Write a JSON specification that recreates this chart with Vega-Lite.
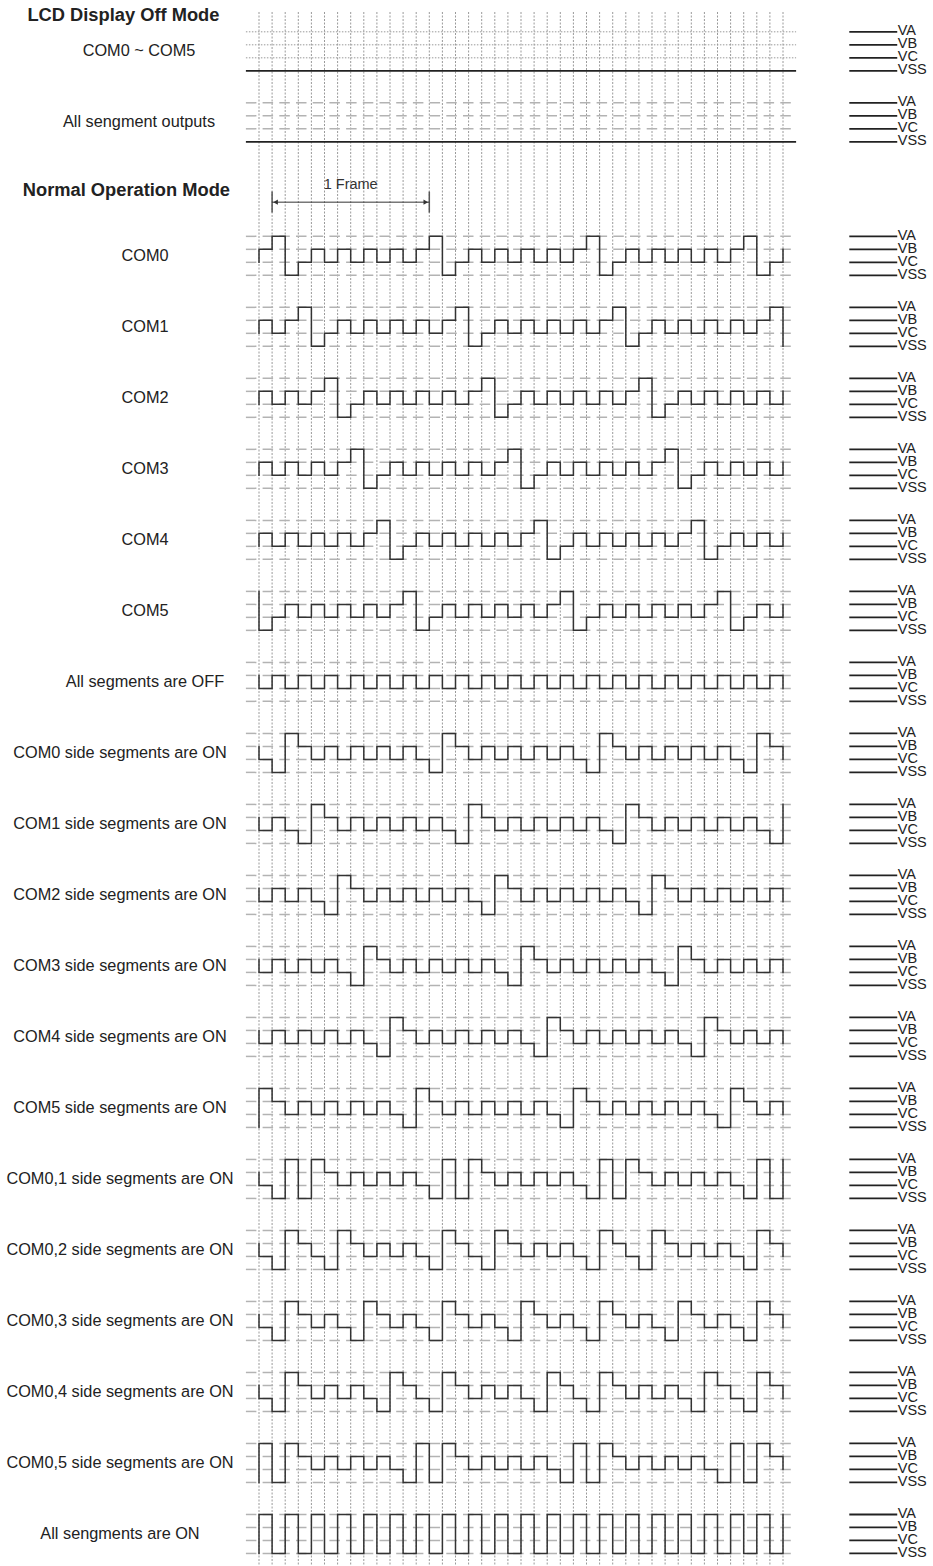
{
  "$schema": "https://vega.github.io/schema/vega-lite/v6.json",
  "width": 933,
  "height": 1566,
  "autosize": {"type": "fit", "contains": "padding"},
  "padding": 0,
  "background": "white",
  "config": {"view": {"stroke": null}, "font": "Liberation Sans"},
  "datasets": {
    "grid": [{"t": [0,1,2,3,4,5,6,7,8,9,10,11,12,13,14,15,16,17,18,19,20,21,22,23,24,25,26,27,28,29,30,31,32,33,34,35,36,37,38,39,40]}],
    "lv": [
      {"r": 0, "v": [3,2,1,0], "n": ["VA","VB","VC","VSS"]},
      {"r": 1, "v": [3,2,1,0], "n": ["VA","VB","VC","VSS"]},
      {"r": 2, "v": [3,2,1,0], "n": ["VA","VB","VC","VSS"]},
      {"r": 3, "v": [3,2,1,0], "n": ["VA","VB","VC","VSS"]},
      {"r": 4, "v": [3,2,1,0], "n": ["VA","VB","VC","VSS"]},
      {"r": 5, "v": [3,2,1,0], "n": ["VA","VB","VC","VSS"]},
      {"r": 6, "v": [3,2,1,0], "n": ["VA","VB","VC","VSS"]},
      {"r": 7, "v": [3,2,1,0], "n": ["VA","VB","VC","VSS"]},
      {"r": 8, "v": [3,2,1,0], "n": ["VA","VB","VC","VSS"]},
      {"r": 9, "v": [3,2,1,0], "n": ["VA","VB","VC","VSS"]},
      {"r": 10, "v": [3,2,1,0], "n": ["VA","VB","VC","VSS"]},
      {"r": 11, "v": [3,2,1,0], "n": ["VA","VB","VC","VSS"]},
      {"r": 12, "v": [3,2,1,0], "n": ["VA","VB","VC","VSS"]},
      {"r": 13, "v": [3,2,1,0], "n": ["VA","VB","VC","VSS"]},
      {"r": 14, "v": [3,2,1,0], "n": ["VA","VB","VC","VSS"]},
      {"r": 15, "v": [3,2,1,0], "n": ["VA","VB","VC","VSS"]},
      {"r": 16, "v": [3,2,1,0], "n": ["VA","VB","VC","VSS"]},
      {"r": 17, "v": [3,2,1,0], "n": ["VA","VB","VC","VSS"]},
      {"r": 18, "v": [3,2,1,0], "n": ["VA","VB","VC","VSS"]}
    ],
    "off": [
      {"r": -3, "v": [3,2,1,0], "n": ["VA","VB","VC","VSS"], "k": ["dot","dot","dot","solid"]},
      {"r": -2, "v": [3,2,1,0], "n": ["VA","VB","VC","VSS"], "k": ["dash","dash","dash","solid"]}
    ],
    "wave": [
      {"r": 0, "t": [0,0,1,2,3,4,5,6,7,8,9,10,11,12,13,14,15,16,17,18,19,20,21,22,23,24,25,26,27,28,29,30,31,32,33,34,35,36,37,38,39,40], "v": [1,2,3,0,1,2,1,2,1,2,1,2,1,2,3,0,1,2,1,2,1,2,1,2,1,2,3,0,1,2,1,2,1,2,1,2,1,2,3,0,1,2]},
      {"r": 1, "t": [0,0,1,2,3,4,5,6,7,8,9,10,11,12,13,14,15,16,17,18,19,20,21,22,23,24,25,26,27,28,29,30,31,32,33,34,35,36,37,38,39,40], "v": [1,2,1,2,3,0,1,2,1,2,1,2,1,2,1,2,3,0,1,2,1,2,1,2,1,2,1,2,3,0,1,2,1,2,1,2,1,2,1,2,3,0]},
      {"r": 2, "t": [0,0,1,2,3,4,5,6,7,8,9,10,11,12,13,14,15,16,17,18,19,20,21,22,23,24,25,26,27,28,29,30,31,32,33,34,35,36,37,38,39,40], "v": [1,2,1,2,1,2,3,0,1,2,1,2,1,2,1,2,1,2,3,0,1,2,1,2,1,2,1,2,1,2,3,0,1,2,1,2,1,2,1,2,1,2]},
      {"r": 3, "t": [0,0,1,2,3,4,5,6,7,8,9,10,11,12,13,14,15,16,17,18,19,20,21,22,23,24,25,26,27,28,29,30,31,32,33,34,35,36,37,38,39,40], "v": [1,2,1,2,1,2,1,2,3,0,1,2,1,2,1,2,1,2,1,2,3,0,1,2,1,2,1,2,1,2,1,2,3,0,1,2,1,2,1,2,1,2]},
      {"r": 4, "t": [0,0,1,2,3,4,5,6,7,8,9,10,11,12,13,14,15,16,17,18,19,20,21,22,23,24,25,26,27,28,29,30,31,32,33,34,35,36,37,38,39,40], "v": [1,2,1,2,1,2,1,2,1,2,3,0,1,2,1,2,1,2,1,2,1,2,3,0,1,2,1,2,1,2,1,2,1,2,3,0,1,2,1,2,1,2]},
      {"r": 5, "t": [0,0,1,2,3,4,5,6,7,8,9,10,11,12,13,14,15,16,17,18,19,20,21,22,23,24,25,26,27,28,29,30,31,32,33,34,35,36,37,38,39,40], "v": [3,0,1,2,1,2,1,2,1,2,1,2,3,0,1,2,1,2,1,2,1,2,1,2,3,0,1,2,1,2,1,2,1,2,1,2,3,0,1,2,1,2]},
      {"r": 6, "t": [0,0,1,2,3,4,5,6,7,8,9,10,11,12,13,14,15,16,17,18,19,20,21,22,23,24,25,26,27,28,29,30,31,32,33,34,35,36,37,38,39,40], "v": [2,1,2,1,2,1,2,1,2,1,2,1,2,1,2,1,2,1,2,1,2,1,2,1,2,1,2,1,2,1,2,1,2,1,2,1,2,1,2,1,2,1]},
      {"r": 7, "t": [0,0,1,2,3,4,5,6,7,8,9,10,11,12,13,14,15,16,17,18,19,20,21,22,23,24,25,26,27,28,29,30,31,32,33,34,35,36,37,38,39,40], "v": [2,1,0,3,2,1,2,1,2,1,2,1,2,1,0,3,2,1,2,1,2,1,2,1,2,1,0,3,2,1,2,1,2,1,2,1,2,1,0,3,2,1]},
      {"r": 8, "t": [0,0,1,2,3,4,5,6,7,8,9,10,11,12,13,14,15,16,17,18,19,20,21,22,23,24,25,26,27,28,29,30,31,32,33,34,35,36,37,38,39,40], "v": [2,1,2,1,0,3,2,1,2,1,2,1,2,1,2,1,0,3,2,1,2,1,2,1,2,1,2,1,0,3,2,1,2,1,2,1,2,1,2,1,0,3]},
      {"r": 9, "t": [0,0,1,2,3,4,5,6,7,8,9,10,11,12,13,14,15,16,17,18,19,20,21,22,23,24,25,26,27,28,29,30,31,32,33,34,35,36,37,38,39,40], "v": [2,1,2,1,2,1,0,3,2,1,2,1,2,1,2,1,2,1,0,3,2,1,2,1,2,1,2,1,2,1,0,3,2,1,2,1,2,1,2,1,2,1]},
      {"r": 10, "t": [0,0,1,2,3,4,5,6,7,8,9,10,11,12,13,14,15,16,17,18,19,20,21,22,23,24,25,26,27,28,29,30,31,32,33,34,35,36,37,38,39,40], "v": [2,1,2,1,2,1,2,1,0,3,2,1,2,1,2,1,2,1,2,1,0,3,2,1,2,1,2,1,2,1,2,1,0,3,2,1,2,1,2,1,2,1]},
      {"r": 11, "t": [0,0,1,2,3,4,5,6,7,8,9,10,11,12,13,14,15,16,17,18,19,20,21,22,23,24,25,26,27,28,29,30,31,32,33,34,35,36,37,38,39,40], "v": [2,1,2,1,2,1,2,1,2,1,0,3,2,1,2,1,2,1,2,1,2,1,0,3,2,1,2,1,2,1,2,1,2,1,0,3,2,1,2,1,2,1]},
      {"r": 12, "t": [0,0,1,2,3,4,5,6,7,8,9,10,11,12,13,14,15,16,17,18,19,20,21,22,23,24,25,26,27,28,29,30,31,32,33,34,35,36,37,38,39,40], "v": [0,3,2,1,2,1,2,1,2,1,2,1,0,3,2,1,2,1,2,1,2,1,2,1,0,3,2,1,2,1,2,1,2,1,2,1,0,3,2,1,2,1]},
      {"r": 13, "t": [0,0,1,2,3,4,5,6,7,8,9,10,11,12,13,14,15,16,17,18,19,20,21,22,23,24,25,26,27,28,29,30,31,32,33,34,35,36,37,38,39,40], "v": [2,1,0,3,0,3,2,1,2,1,2,1,2,1,0,3,0,3,2,1,2,1,2,1,2,1,0,3,0,3,2,1,2,1,2,1,2,1,0,3,0,3]},
      {"r": 14, "t": [0,0,1,2,3,4,5,6,7,8,9,10,11,12,13,14,15,16,17,18,19,20,21,22,23,24,25,26,27,28,29,30,31,32,33,34,35,36,37,38,39,40], "v": [2,1,0,3,2,1,0,3,2,1,2,1,2,1,0,3,2,1,0,3,2,1,2,1,2,1,0,3,2,1,0,3,2,1,2,1,2,1,0,3,2,1]},
      {"r": 15, "t": [0,0,1,2,3,4,5,6,7,8,9,10,11,12,13,14,15,16,17,18,19,20,21,22,23,24,25,26,27,28,29,30,31,32,33,34,35,36,37,38,39,40], "v": [2,1,0,3,2,1,2,1,0,3,2,1,2,1,0,3,2,1,2,1,0,3,2,1,2,1,0,3,2,1,2,1,0,3,2,1,2,1,0,3,2,1]},
      {"r": 16, "t": [0,0,1,2,3,4,5,6,7,8,9,10,11,12,13,14,15,16,17,18,19,20,21,22,23,24,25,26,27,28,29,30,31,32,33,34,35,36,37,38,39,40], "v": [2,1,0,3,2,1,2,1,2,1,0,3,2,1,0,3,2,1,2,1,2,1,0,3,2,1,0,3,2,1,2,1,2,1,0,3,2,1,0,3,2,1]},
      {"r": 17, "t": [0,0,1,2,3,4,5,6,7,8,9,10,11,12,13,14,15,16,17,18,19,20,21,22,23,24,25,26,27,28,29,30,31,32,33,34,35,36,37,38,39,40], "v": [0,3,0,3,2,1,2,1,2,1,2,1,0,3,0,3,2,1,2,1,2,1,2,1,0,3,0,3,2,1,2,1,2,1,2,1,0,3,0,3,2,1]},
      {"r": 18, "t": [0,0,1,2,3,4,5,6,7,8,9,10,11,12,13,14,15,16,17,18,19,20,21,22,23,24,25,26,27,28,29,30,31,32,33,34,35,36,37,38,39,40], "v": [0,3,0,3,0,3,0,3,0,3,0,3,0,3,0,3,0,3,0,3,0,3,0,3,0,3,0,3,0,3,0,3,0,3,0,3,0,3,0,3,0,3]}
    ],
    "labels": [
      {"r": 0, "s": "COM0", "g": "a"},
      {"r": 1, "s": "COM1", "g": "a"},
      {"r": 2, "s": "COM2", "g": "a"},
      {"r": 3, "s": "COM3", "g": "a"},
      {"r": 4, "s": "COM4", "g": "a"},
      {"r": 5, "s": "COM5", "g": "a"},
      {"r": 6, "s": "All segments are OFF", "g": "a"},
      {"r": 7, "s": "COM0 side segments are ON", "g": "b"},
      {"r": 8, "s": "COM1 side segments are ON", "g": "b"},
      {"r": 9, "s": "COM2 side segments are ON", "g": "b"},
      {"r": 10, "s": "COM3 side segments are ON", "g": "b"},
      {"r": 11, "s": "COM4 side segments are ON", "g": "b"},
      {"r": 12, "s": "COM5 side segments are ON", "g": "b"},
      {"r": 13, "s": "COM0,1 side segments are ON", "g": "b"},
      {"r": 14, "s": "COM0,2 side segments are ON", "g": "b"},
      {"r": 15, "s": "COM0,3 side segments are ON", "g": "b"},
      {"r": 16, "s": "COM0,4 side segments are ON", "g": "b"},
      {"r": 17, "s": "COM0,5 side segments are ON", "g": "b"},
      {"r": 18, "s": "All sengments are ON", "g": "b"}
    ],
    "offlabels": [
      {"r": -3, "s": "COM0 ~ COM5"},
      {"r": -2, "s": "All sengment outputs"}
    ],
    "frame": [{"t": 1, "shape": "triangle-left"}, {"t": 13, "shape": "triangle-right"}]
  },
  "layer": [
    {
      "data": {"name": "grid"},
      "transform": [{"flatten": ["t"]}],
      "mark": {"type": "rule", "color": "#9a9a9a", "strokeWidth": 1, "strokeDash": [2, 1.5]},
      "encoding": {
        "x": {"field": "t", "type": "quantitative", "scale": {"domain": [-19.771, 51.45], "nice": false, "zero": false}, "axis": null},
        "y": {"datum": -3.434, "type": "quantitative", "scale": {"domain": [-3.603, 18.437], "reverse": true, "nice": false, "zero": false}, "axis": null},
        "y2": {"datum": 18.44}
      }
    },
    {
      "data": {"name": "lv"},
      "transform": [{"flatten": ["v", "n"]}, {"calculate": "datum.r + (1.5 - datum.v) * 0.183", "as": "y"}],
      "mark": {"type": "rule", "color": "#b3b3b3", "strokeWidth": 1.5, "strokeDash": [10.5, 6.2]},
      "encoding": {
        "x": {"datum": -1, "type": "quantitative", "scale": {"domain": [-19.771, 51.45], "nice": false, "zero": false}, "axis": null},
        "x2": {"datum": 41},
        "y": {"field": "y", "type": "quantitative", "scale": {"domain": [-3.603, 18.437], "reverse": true, "nice": false, "zero": false}, "axis": null}
      }
    },
    {
      "data": {"name": "off"},
      "transform": [{"flatten": ["v", "n", "k"]}, {"filter": "datum.k === 'dash'"}, {"calculate": "datum.r + (1.5 - datum.v) * 0.183", "as": "y"}],
      "mark": {"type": "rule", "color": "#b3b3b3", "strokeWidth": 1.5, "strokeDash": [10.5, 6.2], "yOffset": 8.5},
      "encoding": {
        "x": {"datum": -1, "type": "quantitative", "scale": {"domain": [-19.771, 51.45], "nice": false, "zero": false}, "axis": null},
        "x2": {"datum": 41},
        "y": {"field": "y", "type": "quantitative", "scale": {"domain": [-3.603, 18.437], "reverse": true, "nice": false, "zero": false}, "axis": null}
      }
    },
    {
      "data": {"name": "off"},
      "transform": [{"flatten": ["v", "n", "k"]}, {"filter": "datum.k === 'dot'"}, {"calculate": "datum.r + (1.5 - datum.v) * 0.183", "as": "y"}],
      "mark": {"type": "rule", "color": "#9a9a9a", "strokeWidth": 1, "strokeDash": [1.5, 1.5], "yOffset": 8.5},
      "encoding": {
        "x": {"datum": -1, "type": "quantitative", "scale": {"domain": [-19.771, 51.45], "nice": false, "zero": false}, "axis": null},
        "x2": {"datum": 41},
        "y": {"field": "y", "type": "quantitative", "scale": {"domain": [-3.603, 18.437], "reverse": true, "nice": false, "zero": false}, "axis": null}
      }
    },
    {
      "data": {"name": "off"},
      "transform": [{"flatten": ["v", "n", "k"]}, {"filter": "datum.k === 'solid'"}, {"calculate": "datum.r + (1.5 - datum.v) * 0.183", "as": "y"}],
      "mark": {"type": "rule", "color": "#222222", "strokeWidth": 1.8, "yOffset": 8.5},
      "encoding": {
        "x": {"datum": -1, "type": "quantitative", "scale": {"domain": [-19.771, 51.45], "nice": false, "zero": false}, "axis": null},
        "x2": {"datum": 41},
        "y": {"field": "y", "type": "quantitative", "scale": {"domain": [-3.603, 18.437], "reverse": true, "nice": false, "zero": false}, "axis": null}
      }
    },
    {
      "data": {"name": "wave"},
      "transform": [{"flatten": ["t", "v"]}, {"calculate": "datum.r + (1.5 - datum.v) * 0.183", "as": "y"}],
      "mark": {"type": "line", "interpolate": "step-after", "color": "#333333", "strokeWidth": 1.5, "strokeCap": "square"},
      "encoding": {
        "x": {"field": "t", "type": "quantitative", "scale": {"domain": [-19.771, 51.45], "nice": false, "zero": false}, "axis": null},
        "y": {"field": "y", "type": "quantitative", "scale": {"domain": [-3.603, 18.437], "reverse": true, "nice": false, "zero": false}, "axis": null},
        "detail": {"field": "r", "type": "nominal"},
        "order": {"value": null}
      }
    },
    {
      "data": {"name": "lv"},
      "transform": [{"flatten": ["v", "n"]}, {"calculate": "datum.r + (1.5 - datum.v) * 0.183", "as": "y"}],
      "mark": {"type": "rule", "color": "#222222", "strokeWidth": 1.8},
      "encoding": {
        "x": {"datum": 45.06, "type": "quantitative", "scale": {"domain": [-19.771, 51.45], "nice": false, "zero": false}, "axis": null},
        "x2": {"datum": 48.72},
        "y": {"field": "y", "type": "quantitative", "scale": {"domain": [-3.603, 18.437], "reverse": true, "nice": false, "zero": false}, "axis": null}
      }
    },
    {
      "data": {"name": "off"},
      "transform": [{"flatten": ["v", "n", "k"]}, {"calculate": "datum.r + (1.5 - datum.v) * 0.183", "as": "y"}],
      "mark": {"type": "rule", "color": "#222222", "strokeWidth": 1.8, "yOffset": 8.5},
      "encoding": {
        "x": {"datum": 45.06, "type": "quantitative", "scale": {"domain": [-19.771, 51.45], "nice": false, "zero": false}, "axis": null},
        "x2": {"datum": 48.72},
        "y": {"field": "y", "type": "quantitative", "scale": {"domain": [-3.603, 18.437], "reverse": true, "nice": false, "zero": false}, "axis": null}
      }
    },
    {
      "data": {"name": "lv"},
      "transform": [{"flatten": ["v", "n"]}, {"calculate": "datum.r + (1.5 - datum.v) * 0.183", "as": "y"}],
      "mark": {"type": "text", "align": "left", "baseline": "middle", "dx": 0.5, "dy": -0.5, "fontSize": 14.5, "color": "#222222", "font": "Liberation Sans"},
      "encoding": {
        "x": {"datum": 48.72, "type": "quantitative", "scale": {"domain": [-19.771, 51.45], "nice": false, "zero": false}, "axis": null},
        "y": {"field": "y", "type": "quantitative", "scale": {"domain": [-3.603, 18.437], "reverse": true, "nice": false, "zero": false}, "axis": null},
        "text": {"field": "n", "type": "nominal"}
      }
    },
    {
      "data": {"name": "off"},
      "transform": [{"flatten": ["v", "n", "k"]}, {"calculate": "datum.r + (1.5 - datum.v) * 0.183", "as": "y"}],
      "mark": {"type": "text", "align": "left", "baseline": "middle", "dx": 0.5, "dy": 8, "fontSize": 14.5, "color": "#222222", "font": "Liberation Sans"},
      "encoding": {
        "x": {"datum": 48.72, "type": "quantitative", "scale": {"domain": [-19.771, 51.45], "nice": false, "zero": false}, "axis": null},
        "y": {"field": "y", "type": "quantitative", "scale": {"domain": [-3.603, 18.437], "reverse": true, "nice": false, "zero": false}, "axis": null},
        "text": {"field": "n", "type": "nominal"}
      }
    },
    {
      "data": {"name": "labels"},
      "transform": [{"filter": "datum.g === 'a'"}],
      "mark": {"type": "text", "align": "center", "baseline": "middle", "fontSize": 16.3, "color": "#222222", "font": "Liberation Sans"},
      "encoding": {
        "x": {"datum": -8.702, "type": "quantitative", "scale": {"domain": [-19.771, 51.45], "nice": false, "zero": false}, "axis": null},
        "y": {"field": "r", "type": "quantitative", "scale": {"domain": [-3.603, 18.437], "reverse": true, "nice": false, "zero": false}, "axis": null},
        "text": {"field": "s", "type": "nominal"}
      }
    },
    {
      "data": {"name": "labels"},
      "transform": [{"filter": "datum.g === 'b'"}],
      "mark": {"type": "text", "align": "center", "baseline": "middle", "fontSize": 16.3, "color": "#222222", "font": "Liberation Sans"},
      "encoding": {
        "x": {"datum": -10.611, "type": "quantitative", "scale": {"domain": [-19.771, 51.45], "nice": false, "zero": false}, "axis": null},
        "y": {"field": "r", "type": "quantitative", "scale": {"domain": [-3.603, 18.437], "reverse": true, "nice": false, "zero": false}, "axis": null},
        "text": {"field": "s", "type": "nominal"}
      }
    },
    {
      "data": {"name": "offlabels"},
      "mark": {"type": "text", "align": "center", "baseline": "middle", "dy": 8.5, "fontSize": 16.3, "color": "#222222", "font": "Liberation Sans"},
      "encoding": {
        "x": {"datum": -9.16, "type": "quantitative", "scale": {"domain": [-19.771, 51.45], "nice": false, "zero": false}, "axis": null},
        "y": {"field": "r", "type": "quantitative", "scale": {"domain": [-3.603, 18.437], "reverse": true, "nice": false, "zero": false}, "axis": null},
        "text": {"field": "s", "type": "nominal"}
      }
    },
    {
      "data": {"values": [{"s": "LCD Display Off Mode"}]},
      "mark": {"type": "text", "align": "center", "baseline": "middle", "fontSize": 18.3, "fontWeight": "bold", "color": "#222222", "font": "Liberation Sans"},
      "encoding": {
        "x": {"datum": -10.351, "type": "quantitative", "scale": {"domain": [-19.771, 51.45], "nice": false, "zero": false}, "axis": null},
        "y": {"datum": -3.375, "type": "quantitative", "scale": {"domain": [-3.603, 18.437], "reverse": true, "nice": false, "zero": false}, "axis": null},
        "text": {"field": "s", "type": "nominal"}
      }
    },
    {
      "data": {"values": [{"s": "Normal Operation Mode"}]},
      "mark": {"type": "text", "align": "center", "baseline": "middle", "fontSize": 18.3, "fontWeight": "bold", "color": "#222222", "font": "Liberation Sans"},
      "encoding": {
        "x": {"datum": -10.122, "type": "quantitative", "scale": {"domain": [-19.771, 51.45], "nice": false, "zero": false}, "axis": null},
        "y": {"datum": -0.912, "type": "quantitative", "scale": {"domain": [-3.603, 18.437], "reverse": true, "nice": false, "zero": false}, "axis": null},
        "text": {"field": "s", "type": "nominal"}
      }
    },
    {
      "data": {"values": [{"s": "1 Frame"}]},
      "mark": {"type": "text", "align": "center", "baseline": "middle", "fontSize": 14.5, "color": "#333333", "font": "Liberation Sans"},
      "encoding": {
        "x": {"datum": 7, "type": "quantitative", "scale": {"domain": [-19.771, 51.45], "nice": false, "zero": false}, "axis": null},
        "y": {"datum": -0.995, "type": "quantitative", "scale": {"domain": [-3.603, 18.437], "reverse": true, "nice": false, "zero": false}, "axis": null},
        "text": {"field": "s", "type": "nominal"}
      }
    },
    {
      "data": {"name": "frame"},
      "mark": {"type": "rule", "color": "#555555", "strokeWidth": 1.5},
      "encoding": {
        "x": {"field": "t", "type": "quantitative", "scale": {"domain": [-19.771, 51.45], "nice": false, "zero": false}, "axis": null},
        "y": {"datum": -0.905, "type": "quantitative", "scale": {"domain": [-3.603, 18.437], "reverse": true, "nice": false, "zero": false}, "axis": null},
        "y2": {"datum": -0.609}
      }
    },
    {
      "data": {"values": [{"s": "1 Frame"}]},
      "mark": {"type": "rule", "color": "#333333", "strokeWidth": 1},
      "encoding": {
        "x": {"datum": 1, "type": "quantitative", "scale": {"domain": [-19.771, 51.45], "nice": false, "zero": false}, "axis": null},
        "x2": {"datum": 13},
        "y": {"datum": -0.756, "type": "quantitative", "scale": {"domain": [-3.603, 18.437], "reverse": true, "nice": false, "zero": false}, "axis": null}
      }
    },
    {
      "data": {"name": "frame"},
      "transform": [{"filter": "datum.t === 1"}],
      "mark": {"type": "point", "filled": true, "color": "#333333", "size": 28, "xOffset": 3.5, "opacity": 1},
      "encoding": {
        "x": {"field": "t", "type": "quantitative", "scale": {"domain": [-19.771, 51.45], "nice": false, "zero": false}, "axis": null},
        "y": {"datum": -0.756, "type": "quantitative", "scale": {"domain": [-3.603, 18.437], "reverse": true, "nice": false, "zero": false}, "axis": null},
        "shape": {"field": "shape", "type": "nominal", "scale": null, "legend": null}
      }
    },
    {
      "data": {"name": "frame"},
      "transform": [{"filter": "datum.t === 13"}],
      "mark": {"type": "point", "filled": true, "color": "#333333", "size": 28, "xOffset": -3.5, "opacity": 1},
      "encoding": {
        "x": {"field": "t", "type": "quantitative", "scale": {"domain": [-19.771, 51.45], "nice": false, "zero": false}, "axis": null},
        "y": {"datum": -0.756, "type": "quantitative", "scale": {"domain": [-3.603, 18.437], "reverse": true, "nice": false, "zero": false}, "axis": null},
        "shape": {"field": "shape", "type": "nominal", "scale": null, "legend": null}
      }
    }
  ]
}
